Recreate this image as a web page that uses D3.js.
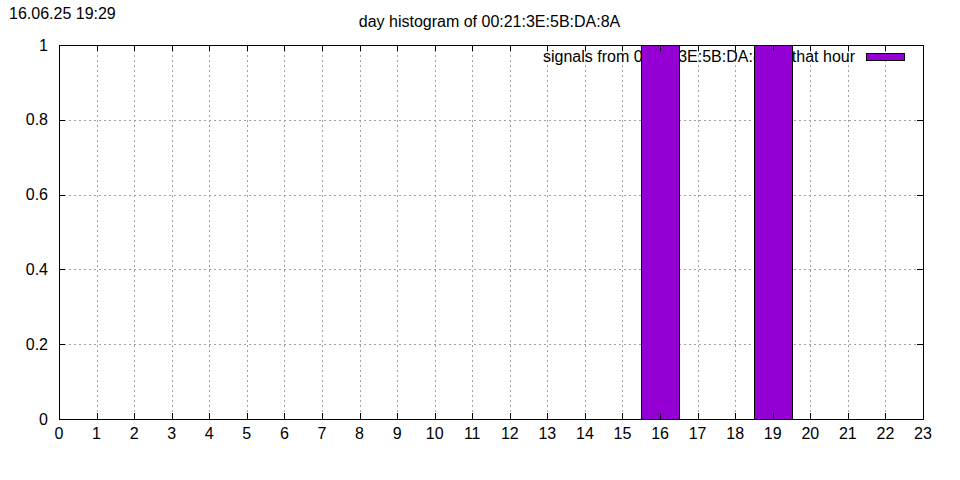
<!DOCTYPE html>
<html><head><meta charset="utf-8">
<script src="https://cdn.jsdelivr.net/npm/d3@7"></script>
<style>body{margin:0;background:#fff}svg{display:block;font-family:"Liberation Sans",Arial,sans-serif}</style>
</head><body><svg id="c" width="960" height="480"></svg>
<script>
const hours = d3.range(0, 24);
const counts = [0,0,0,0,0,0,0,0,0,0,0,0,0,0,0,0,1,0,0,1,0,0,0,0];
const yTicks = [0, 0.2, 0.4, 0.6, 0.8, 1];
const xTicks = d3.range(0, 24);
const title = "day histogram of 00:21:3E:5B:DA:8A";
const stamp = "16.06.25 19:29";
const legendLabelA = "signals from 00:21:3E:5B:DA:8A";
const legendLabelB = "that hour";
const color = "#9400D3";

const svg = d3.select("#c");
const L = 59, R = 923, T = 45, B = 419;
const x = d3.scaleLinear().domain([0, 23]).range([L, R]);
const y = d3.scaleLinear().domain([0, 1]).range([B, T]);

svg.append("rect").attr("width",960).attr("height",480).attr("fill","#fff");

// grid
const g = svg.append("g").attr("stroke","#a0a0a0").attr("stroke-width",1).attr("stroke-dasharray","2,3");
xTicks.slice(1,-1).forEach(t => g.append("line").attr("x1",Math.round(x(t))+0.5).attr("x2",Math.round(x(t))+0.5).attr("y1",T).attr("y2",B));
yTicks.slice(1,-1).forEach(t => g.append("line").attr("y1",Math.round(y(t))+0.5).attr("y2",Math.round(y(t))+0.5).attr("x1",L).attr("x2",R));

// legend
svg.append("text").attr("x",543).attr("y",61.5).attr("font-size",16).text(legendLabelA);
svg.append("text").attr("x",855).attr("y",61.5).attr("text-anchor","end").attr("font-size",16).text(legendLabelB);
svg.append("rect").attr("x",866.5).attr("y",53.5).attr("width",38).attr("height",7).attr("fill",color).attr("stroke","#000").attr("stroke-width",1);

// bars
svg.append("g").selectAll("rect").data(hours.filter((h,i)=>counts[i]>0)).join("rect")
  .attr("x", h => Math.round(x(h-0.5))+0.5)
  .attr("width", h => Math.round(x(h+0.5)) - Math.round(x(h-0.5)))
  .attr("y", h => Math.round(y(counts[h]))+0.5)
  .attr("height", h => Math.round(y(0)) - Math.round(y(counts[h])))
  .attr("fill", color).attr("stroke","#000").attr("stroke-width",1);

// ticks (inward, mirrored)
const tk = svg.append("g").attr("stroke","#000").attr("stroke-width",1);
xTicks.forEach(t => {
  const xx = Math.round(x(t))+0.5;
  tk.append("line").attr("x1",xx).attr("x2",xx).attr("y1",B).attr("y2",B-6);
  tk.append("line").attr("x1",xx).attr("x2",xx).attr("y1",T).attr("y2",T+6);
});
yTicks.forEach(t => {
  const yy = Math.round(y(t))+0.5;
  tk.append("line").attr("x1",L).attr("x2",L+6).attr("y1",yy).attr("y2",yy);
  tk.append("line").attr("x1",R).attr("x2",R-6).attr("y1",yy).attr("y2",yy);
});

// border
svg.append("rect").attr("x",L+0.5).attr("y",T+0.5).attr("width",R-L).attr("height",B-T).attr("fill","none").attr("stroke","#000");

// labels
const fmtY = d => String(d);
svg.append("g").selectAll("text").data(yTicks).join("text")
  .attr("x",48).attr("y",d=>y(d)+5.5).attr("text-anchor","end").attr("font-size",16).text(fmtY);
svg.append("g").selectAll("text").data(xTicks).join("text")
  .attr("x",d=>x(d)).attr("y",439).attr("text-anchor","middle").attr("font-size",16).text(d=>d);

svg.append("text").attr("x",489.5).attr("y",26.5).attr("text-anchor","middle").attr("font-size",16).text(title);
svg.append("text").attr("x",9).attr("y",18.5).attr("font-size",16).text(stamp);
</script></body></html>
